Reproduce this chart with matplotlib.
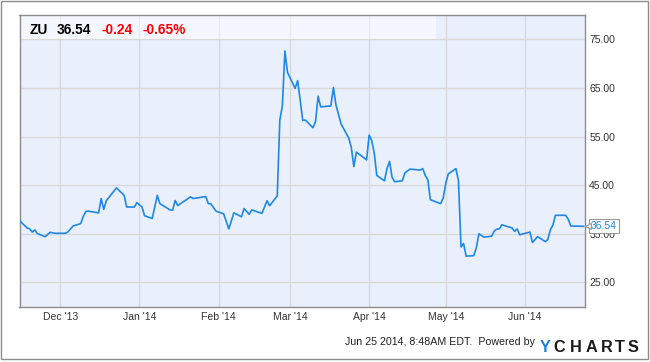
import matplotlib
matplotlib.use('Agg')
import matplotlib.pyplot as plt
import matplotlib.dates as mdates
import matplotlib.transforms as mtransforms
from matplotlib.patches import Rectangle
import pandas as pd

plt.rcParams['font.family'] = ['Liberation Sans', 'DejaVu Sans']

# ZU price (Nov 2013 - Jun 2014)
dates = [
    '2013-11-15', '2013-11-18', '2013-11-19', '2013-11-20', '2013-11-21', '2013-11-22',
    '2013-11-25', '2013-11-27', '2013-11-29', '2013-12-03', '2013-12-04', '2013-12-06',
    '2013-12-09', '2013-12-10', '2013-12-11', '2013-12-12', '2013-12-16', '2013-12-17',
    '2013-12-18', '2013-12-19', '2013-12-23', '2013-12-26', '2013-12-27', '2013-12-30',
    '2013-12-31', '2014-01-02', '2014-01-03', '2014-01-06', '2014-01-08', '2014-01-09',
    '2014-01-13', '2014-01-14', '2014-01-15', '2014-01-16', '2014-01-21', '2014-01-22',
    '2014-01-27', '2014-01-28', '2014-01-29', '2014-01-31', '2014-02-03', '2014-02-05',
    '2014-02-07', '2014-02-10', '2014-02-11', '2014-02-13', '2014-02-14', '2014-02-18',
    '2014-02-20', '2014-02-21', '2014-02-24', '2014-02-25', '2014-02-26', '2014-02-27',
    '2014-02-28', '2014-03-03', '2014-03-04', '2014-03-06', '2014-03-07', '2014-03-10',
    '2014-03-11', '2014-03-12', '2014-03-13', '2014-03-17', '2014-03-18', '2014-03-19',
    '2014-03-21', '2014-03-24', '2014-03-25', '2014-03-26', '2014-03-27', '2014-03-31',
    '2014-04-01', '2014-04-02', '2014-04-03', '2014-04-04', '2014-04-07', '2014-04-08',
    '2014-04-09', '2014-04-10', '2014-04-11', '2014-04-14', '2014-04-15', '2014-04-17',
    '2014-04-21', '2014-04-22', '2014-04-23', '2014-04-24', '2014-04-25', '2014-04-29',
    '2014-04-30', '2014-05-01', '2014-05-02', '2014-05-05', '2014-05-06', '2014-05-07',
    '2014-05-08', '2014-05-09', '2014-05-12', '2014-05-13', '2014-05-14', '2014-05-16',
    '2014-05-19', '2014-05-20', '2014-05-21', '2014-05-22', '2014-05-23', '2014-05-27',
    '2014-05-28', '2014-05-29', '2014-05-30', '2014-06-03', '2014-06-04', '2014-06-06',
    '2014-06-09', '2014-06-10', '2014-06-11', '2014-06-12', '2014-06-13', '2014-06-17',
    '2014-06-18', '2014-06-19', '2014-06-24',
]
prices = [
    37.7, 36.2, 36.0, 35.35, 35.8, 35.05,
    34.4, 35.3, 35.1, 35.1, 35.4, 36.6,
    37.1, 38.6, 39.6, 39.65, 39.3, 42.25,
    40.0, 41.8, 44.45, 42.9, 40.5, 40.5,
    41.4, 40.5, 38.7, 38.15, 42.9, 41.2,
    39.9, 39.85, 41.85, 40.8, 42.6, 42.25,
    42.65, 41.2, 41.15, 39.65, 39.1, 36.0,
    39.3, 38.5, 40.2, 39.0, 39.9, 39.2,
    41.8, 40.75, 42.8, 58.4, 61.3, 72.6,
    68.2, 64.9, 66.5, 58.3, 58.4, 56.8,
    58.1, 63.3, 61.1, 61.3, 65.1, 61.5,
    57.6, 54.7, 52.8, 48.8, 51.8, 50.2,
    55.3, 54.2, 51.6, 47.0, 45.9, 48.4,
    49.9, 46.6, 45.7, 45.9, 47.5, 48.3,
    48.1, 48.4, 47.0, 46.1, 42.0, 41.2,
    42.3, 45.3, 47.3, 48.4, 45.9, 32.3,
    33.0, 30.4, 30.5, 32.1, 35.0, 34.3,
    34.5, 35.55, 35.95, 36.0, 36.85, 36.2,
    35.5, 36.0, 34.8, 35.35, 33.2, 34.4,
    33.4, 33.8, 35.8, 36.8, 38.8, 38.8,
    38.0, 36.6, 36.54,
]
ticker = 'ZU'
last_price = '36.54'
change = '-0.24'
change_pct = '-0.65%'
y_ticks = [25, 35, 45, 55, 65, 75]
stamp = 'Jun 25 2014, 8:48AM EDT.  Powered by'

dates = pd.to_datetime(dates)

W, H = 650, 362
fig = plt.figure(figsize=(W / 100, H / 100), dpi=100)
fig.patch.set_facecolor('white')
# outer frame
fig.patches.append(Rectangle((1 / W, 3 / H), 647 / W, 358 / H, transform=fig.transFigure,
                             fill=False, ec='#8c8c8c', lw=1))

ax = fig.add_axes([19.5 / W, 1 - 306.7 / H, (585 - 19.5) / W, (306.7 - 15) / H])
ax.set_facecolor('#e9f0fb')
ax.set_axisbelow(True)

ax.plot(dates, prices, color='#1e88e5', lw=1.2, zorder=3)

ax.set_ylim(20, 80)
ax.set_xlim(pd.Timestamp('2013-11-15'), pd.Timestamp('2014-06-24 14:00'))
ax.set_yticks(y_ticks)
ax.yaxis.set_major_formatter(plt.FormatStrFormatter('%.2f'))
ax.yaxis.tick_right()
ax.xaxis.set_major_locator(mdates.MonthLocator())
ax.xaxis.set_major_formatter(mdates.DateFormatter("%b '%y"))
ax.tick_params(axis='both', length=0, labelsize=7.5, colors='#333333')
ax.tick_params(axis='y', pad=3)
ax.tick_params(axis='x', pad=4)
ax.grid(True, color='#d8d8d8', lw=1)
for s in ax.spines.values():
    s.set_color('#8c8c8c')
    s.set_linewidth(1)

# header strip
ax.add_patch(Rectangle((0, 55 / 60), (436 - 19.5) / (585 - 19.5), 5 / 60, transform=ax.transAxes,
                       fc='white', alpha=0.5, ec='none', zorder=1))
hy = 1 - 33.7 / H
fig.text(30 / W, hy, ticker, fontsize=9.9, fontweight='bold', color='black', va='baseline')
fig.text(56.7 / W, hy, last_price, fontsize=9.9, fontweight='bold', color='black', va='baseline')
fig.text(101.7 / W, hy, change, fontsize=9.9, fontweight='bold', color='#ff0000', va='baseline')
fig.text(142.7 / W, hy, change_pct, fontsize=9.9, fontweight='bold', color='#ff0000', va='baseline')

# last value tag
trans = mtransforms.blended_transform_factory(ax.transAxes, ax.transData)
ax.text(1 + 6 / 565.5, prices[-1], last_price, transform=trans, fontsize=7.5, color='#1e88e5',
        ha='left', va='center', clip_on=False, zorder=6,
        bbox=dict(boxstyle='square,pad=0.2', fc='white', ec='#999999', lw=0.8))
ax.plot([1 + 3 / 565.5], [prices[-1]], transform=trans, marker='<', ms=5, mfc='white',
        mec='#999999', mew=0.8, clip_on=False, zorder=7)

# footer
fig.text(535 / W, 1 - 345 / H, stamp, fontsize=7.7, color='#222222', ha='right', va='baseline')
logo_x = [545.5, 559, 576.2, 591.5, 607, 620.3, 633.3]
for ch, lx in zip('YCHARTS', logo_x):
    fig.text(lx / W, 1 - 352.3 / H, ch, fontsize=11.7, fontweight='bold', ha='center',
             color='#1d7fe0' if ch == 'Y' else '#1a1a1a', va='baseline')

fig.savefig('out.png', dpi=100)
